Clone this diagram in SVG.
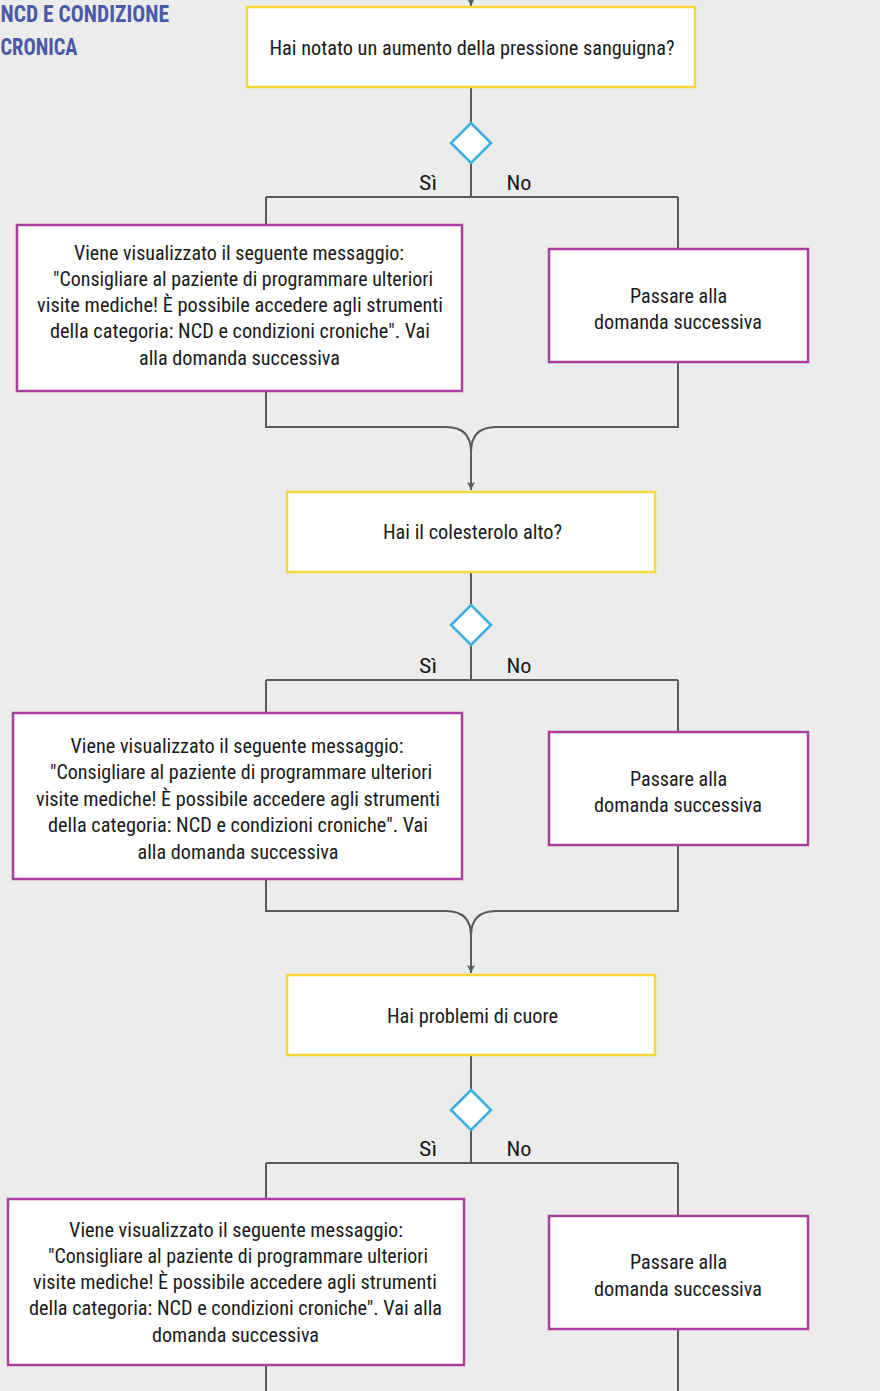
<svg xmlns="http://www.w3.org/2000/svg" width="880" height="1391" viewBox="0 0 880 1391">
<defs>
<style>
.t{font-family:"Roboto Condensed",Roboto,"Liberation Sans",sans-serif;font-size:20px;fill:#1a1a1a;text-anchor:middle}
.ttl{font-family:"Roboto Condensed",Roboto,"Liberation Sans",sans-serif;font-size:24px;font-weight:bold;fill:#4a5aa8}
.q{fill:#ffffff;stroke:#f6d838;stroke-width:2.5}
.a{fill:#ffffff;stroke:#a83f9c;stroke-width:2.5}
.d{fill:#ffffff;stroke:#3aaee6;stroke-width:2.5}
.c{fill:none;stroke:#5a5a5a;stroke-width:2}
</style>
<marker id="ah" markerWidth="10" markerHeight="10" refX="8" refY="4" orient="auto" markerUnits="userSpaceOnUse">
<path d="M0,0 L8,4 L0,8 L2,4 Z" fill="#5a5a5a"/>
</marker>
</defs>
<rect width="880" height="1391" fill="#ececec"/>
<g id="title">
<text class="ttl" x="0.5" y="22" textLength="168.5" lengthAdjust="spacingAndGlyphs">NCD E CONDIZIONE</text>
<text class="ttl" x="0.5" y="55" textLength="77" lengthAdjust="spacingAndGlyphs">CRONICA</text>
</g>
<g id="connectors">
<path class="c" d="M471,-10 V6" marker-end="url(#ah)"/>
<path class="c" d="M471,87 V123 M471,163 V197 M266,197 H678 M266,197 V225 M678,197 V249"/>
<path class="c" d="M266,391 V427 H446 Q471,427 471,452 M678,362 V427 H496 Q471,427 471,452"/>
<path class="c" d="M471,452 V490" marker-end="url(#ah)"/>
<path class="c" d="M471,572 V605 M471,645 V680 M266,680 H678 M266,680 V713 M678,680 V732"/>
<path class="c" d="M266,879 V911 H446 Q471,911 471,936 M678,845 V911 H496 Q471,911 471,936"/>
<path class="c" d="M471,936 V973" marker-end="url(#ah)"/>
<path class="c" d="M471,1055 V1090 M471,1130 V1163 M266,1163 H678 M266,1163 V1199 M678,1163 V1216"/>
<path class="c" d="M266,1365 V1395 M678,1329 V1395"/>
<text class="t" x="428" y="190" textLength="18" lengthAdjust="spacingAndGlyphs">Sì</text>
<text class="t" x="519" y="190" textLength="25" lengthAdjust="spacingAndGlyphs">No</text>
<text class="t" x="428" y="673" textLength="18" lengthAdjust="spacingAndGlyphs">Sì</text>
<text class="t" x="519" y="673" textLength="25" lengthAdjust="spacingAndGlyphs">No</text>
<text class="t" x="428" y="1156" textLength="18" lengthAdjust="spacingAndGlyphs">Sì</text>
<text class="t" x="519" y="1156" textLength="25" lengthAdjust="spacingAndGlyphs">No</text>
</g>
<g id="q1">
<rect class="q" x="247" y="7" width="448" height="80"/>
<text class="t" x="472" y="55" textLength="405" lengthAdjust="spacingAndGlyphs">Hai notato un aumento della pressione sanguigna?</text>
</g>
<g id="d1"><path class="d" d="M471,123 L491,143 L471,163 L451,143 Z"/></g>
<g id="yes1">
<rect class="a" x="17" y="225" width="445" height="166"/>
<text class="t" x="239" y="260" textLength="330" lengthAdjust="spacingAndGlyphs">Viene visualizzato il seguente messaggio:</text>
<text class="t" x="243" y="286" textLength="380" lengthAdjust="spacingAndGlyphs">"Consigliare al paziente di programmare ulteriori</text>
<text class="t" x="240" y="312" textLength="406" lengthAdjust="spacingAndGlyphs">visite mediche! È possibile accedere agli strumenti</text>
<text class="t" x="240" y="338" textLength="380" lengthAdjust="spacingAndGlyphs">della categoria: NCD e condizioni croniche". Vai</text>
<text class="t" x="239.5" y="365" textLength="201" lengthAdjust="spacingAndGlyphs">alla domanda successiva</text>
</g>
<g id="no1">
<rect class="a" x="549" y="249" width="259" height="113"/>
<text class="t" x="678.5" y="303" textLength="97" lengthAdjust="spacingAndGlyphs">Passare alla</text>
<text class="t" x="678" y="329" textLength="168" lengthAdjust="spacingAndGlyphs">domanda successiva</text>
</g>
<g id="q2">
<rect class="q" x="287" y="492" width="368" height="80"/>
<text class="t" x="472.5" y="539" textLength="179" lengthAdjust="spacingAndGlyphs">Hai il colesterolo alto?</text>
</g>
<g id="d2"><path class="d" d="M471,605 L491,625 L471,645 L451,625 Z"/></g>
<g id="yes2">
<rect class="a" x="13" y="713" width="449" height="166"/>
<text class="t" x="237" y="753" textLength="333" lengthAdjust="spacingAndGlyphs">Viene visualizzato il seguente messaggio:</text>
<text class="t" x="241" y="779" textLength="382" lengthAdjust="spacingAndGlyphs">"Consigliare al paziente di programmare ulteriori</text>
<text class="t" x="238" y="806" textLength="404" lengthAdjust="spacingAndGlyphs">visite mediche! È possibile accedere agli strumenti</text>
<text class="t" x="238" y="832" textLength="380" lengthAdjust="spacingAndGlyphs">della categoria: NCD e condizioni croniche". Vai</text>
<text class="t" x="238" y="859" textLength="201" lengthAdjust="spacingAndGlyphs">alla domanda successiva</text>
</g>
<g id="no2">
<rect class="a" x="549" y="732" width="259" height="113"/>
<text class="t" x="678.5" y="786" textLength="97" lengthAdjust="spacingAndGlyphs">Passare alla</text>
<text class="t" x="678" y="812" textLength="168" lengthAdjust="spacingAndGlyphs">domanda successiva</text>
</g>
<g id="q3">
<rect class="q" x="287" y="975" width="368" height="80"/>
<text class="t" x="472.5" y="1023" textLength="171" lengthAdjust="spacingAndGlyphs">Hai problemi di cuore</text>
</g>
<g id="d3"><path class="d" d="M471,1090 L491,1110 L471,1130 L451,1110 Z"/></g>
<g id="yes3">
<rect class="a" x="8" y="1199" width="456" height="166"/>
<text class="t" x="236" y="1237" textLength="334" lengthAdjust="spacingAndGlyphs">Viene visualizzato il seguente messaggio:</text>
<text class="t" x="238" y="1263" textLength="380" lengthAdjust="spacingAndGlyphs">"Consigliare al paziente di programmare ulteriori</text>
<text class="t" x="235" y="1289" textLength="404" lengthAdjust="spacingAndGlyphs">visite mediche! È possibile accedere agli strumenti</text>
<text class="t" x="235.5" y="1315" textLength="413" lengthAdjust="spacingAndGlyphs">della categoria: NCD e condizioni croniche". Vai alla</text>
<text class="t" x="235.5" y="1342" textLength="167" lengthAdjust="spacingAndGlyphs">domanda successiva</text>
</g>
<g id="no3">
<rect class="a" x="549" y="1216" width="259" height="113"/>
<text class="t" x="678.5" y="1269" textLength="97" lengthAdjust="spacingAndGlyphs">Passare alla</text>
<text class="t" x="678" y="1296" textLength="168" lengthAdjust="spacingAndGlyphs">domanda successiva</text>
</g>
</svg>
